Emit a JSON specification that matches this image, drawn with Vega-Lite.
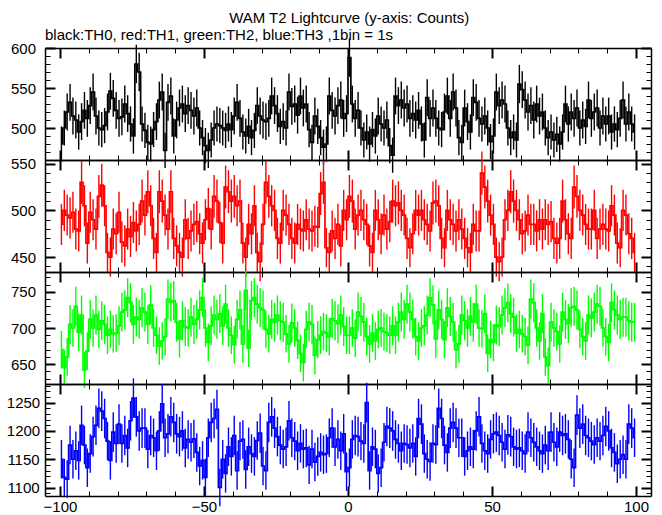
{
"$schema": "https://vega.github.io/schema/vega-lite/v6.json",
"padding": {"left": 6, "top": 10, "right": 5, "bottom": 0},
"bounds": "flush",
"spacing": 0,
"title": {"text": "WAM T2 Lightcurve (y-axis: Counts)", "anchor": "middle", "frame": "bounds", "dx": 20, "font": "Liberation Sans", "fontSize": 15, "fontWeight": "normal", "color": "black", "offset": 2},
"datasets": {
"th0": [
{"x":-99.5,"y":480,"e":22},{"x":-98.5,"y":500,"e":22},{"x":-97.5,"y":520,"e":23},{"x":-96.5,"y":532,"e":23},{"x":-95.5,"y":515,"e":23},{"x":-94.5,"y":510,"e":23},{"x":-93.5,"y":495,"e":22},{"x":-92.5,"y":508,"e":23},{"x":-91.5,"y":522,"e":23},{"x":-90.5,"y":512,"e":23},
{"x":-89.5,"y":528,"e":23},{"x":-88.5,"y":545,"e":23},{"x":-87.5,"y":515,"e":23},{"x":-86.5,"y":500,"e":22},{"x":-85.5,"y":498,"e":22},{"x":-84.5,"y":503,"e":22},{"x":-83.5,"y":520,"e":23},{"x":-82.5,"y":546,"e":23},{"x":-81.5,"y":537,"e":23},{"x":-80.5,"y":522,"e":23},
{"x":-79.5,"y":512,"e":23},{"x":-78.5,"y":514,"e":23},{"x":-77.5,"y":530,"e":23},{"x":-76.5,"y":518,"e":23},{"x":-75.5,"y":505,"e":22},{"x":-74.5,"y":490,"e":22},{"x":-73.5,"y":580,"e":24},{"x":-72.5,"y":570,"e":24},{"x":-71.5,"y":505,"e":22},{"x":-70.5,"y":497,"e":22},
{"x":-69.5,"y":482,"e":22},{"x":-68.5,"y":480,"e":22},{"x":-67.5,"y":498,"e":22},{"x":-66.5,"y":508,"e":23},{"x":-65.5,"y":535,"e":23},{"x":-64.5,"y":545,"e":23},{"x":-63.5,"y":472,"e":22},{"x":-62.5,"y":532,"e":23},{"x":-61.5,"y":540,"e":23},{"x":-60.5,"y":490,"e":22},
{"x":-59.5,"y":510,"e":23},{"x":-58.5,"y":525,"e":23},{"x":-57.5,"y":530,"e":23},{"x":-56.5,"y":518,"e":23},{"x":-55.5,"y":528,"e":23},{"x":-54.5,"y":522,"e":23},{"x":-53.5,"y":515,"e":23},{"x":-52.5,"y":525,"e":23},{"x":-51.5,"y":500,"e":22},{"x":-50.5,"y":488,"e":22},
{"x":-49.5,"y":478,"e":22},{"x":-48.5,"y":472,"e":22},{"x":-47.5,"y":485,"e":22},{"x":-46.5,"y":500,"e":22},{"x":-45.5,"y":505,"e":22},{"x":-44.5,"y":503,"e":22},{"x":-43.5,"y":500,"e":22},{"x":-42.5,"y":497,"e":22},{"x":-41.5,"y":505,"e":22},{"x":-40.5,"y":498,"e":22},
{"x":-39.5,"y":515,"e":23},{"x":-38.5,"y":532,"e":23},{"x":-37.5,"y":512,"e":23},{"x":-36.5,"y":495,"e":22},{"x":-35.5,"y":490,"e":22},{"x":-34.5,"y":502,"e":22},{"x":-33.5,"y":488,"e":22},{"x":-32.5,"y":497,"e":22},{"x":-31.5,"y":528,"e":23},{"x":-30.5,"y":515,"e":23},
{"x":-29.5,"y":510,"e":23},{"x":-28.5,"y":508,"e":23},{"x":-27.5,"y":512,"e":23},{"x":-26.5,"y":540,"e":23},{"x":-25.5,"y":528,"e":23},{"x":-24.5,"y":518,"e":23},{"x":-23.5,"y":502,"e":22},{"x":-22.5,"y":508,"e":23},{"x":-21.5,"y":500,"e":22},{"x":-20.5,"y":545,"e":23},
{"x":-19.5,"y":527,"e":23},{"x":-18.5,"y":530,"e":23},{"x":-17.5,"y":516,"e":23},{"x":-16.5,"y":540,"e":23},{"x":-15.5,"y":525,"e":23},{"x":-14.5,"y":530,"e":23},{"x":-13.5,"y":498,"e":22},{"x":-12.5,"y":482,"e":22},{"x":-11.5,"y":515,"e":23},{"x":-10.5,"y":502,"e":22},
{"x":-9.5,"y":488,"e":22},{"x":-8.5,"y":476,"e":22},{"x":-7.5,"y":480,"e":22},{"x":-6.5,"y":540,"e":23},{"x":-5.5,"y":522,"e":23},{"x":-4.5,"y":515,"e":23},{"x":-3.5,"y":528,"e":23},{"x":-2.5,"y":535,"e":23},{"x":-1.5,"y":512,"e":23},{"x":-0.5,"y":518,"e":23},
{"x":0.5,"y":588,"e":24},{"x":1.5,"y":530,"e":23},{"x":2.5,"y":512,"e":23},{"x":3.5,"y":522,"e":23},{"x":4.5,"y":500,"e":22},{"x":5.5,"y":485,"e":22},{"x":6.5,"y":495,"e":22},{"x":7.5,"y":480,"e":22},{"x":8.5,"y":498,"e":22},{"x":9.5,"y":490,"e":22},
{"x":10.5,"y":515,"e":23},{"x":11.5,"y":505,"e":22},{"x":12.5,"y":500,"e":22},{"x":13.5,"y":510,"e":23},{"x":14.5,"y":478,"e":22},{"x":15.5,"y":466,"e":22},{"x":16.5,"y":540,"e":23},{"x":17.5,"y":528,"e":23},{"x":18.5,"y":535,"e":23},{"x":19.5,"y":525,"e":23},
{"x":20.5,"y":530,"e":23},{"x":21.5,"y":512,"e":23},{"x":22.5,"y":518,"e":23},{"x":23.5,"y":510,"e":23},{"x":24.5,"y":522,"e":23},{"x":25.5,"y":505,"e":22},{"x":26.5,"y":485,"e":22},{"x":27.5,"y":538,"e":23},{"x":28.5,"y":512,"e":23},{"x":29.5,"y":525,"e":23},
{"x":30.5,"y":512,"e":23},{"x":31.5,"y":500,"e":22},{"x":32.5,"y":498,"e":22},{"x":33.5,"y":520,"e":23},{"x":34.5,"y":540,"e":23},{"x":35.5,"y":512,"e":23},{"x":36.5,"y":545,"e":23},{"x":37.5,"y":525,"e":23},{"x":38.5,"y":488,"e":22},{"x":39.5,"y":482,"e":22},
{"x":40.5,"y":525,"e":23},{"x":41.5,"y":508,"e":23},{"x":42.5,"y":495,"e":22},{"x":43.5,"y":538,"e":23},{"x":44.5,"y":532,"e":23},{"x":45.5,"y":512,"e":23},{"x":46.5,"y":505,"e":22},{"x":47.5,"y":515,"e":23},{"x":48.5,"y":500,"e":22},{"x":49.5,"y":483,"e":22},
{"x":50.5,"y":490,"e":22},{"x":51.5,"y":545,"e":23},{"x":52.5,"y":528,"e":23},{"x":53.5,"y":535,"e":23},{"x":54.5,"y":530,"e":23},{"x":55.5,"y":500,"e":22},{"x":56.5,"y":488,"e":22},{"x":57.5,"y":495,"e":22},{"x":58.5,"y":485,"e":22},{"x":59.5,"y":555,"e":24},
{"x":60.5,"y":548,"e":23},{"x":61.5,"y":535,"e":23},{"x":62.5,"y":520,"e":23},{"x":63.5,"y":528,"e":23},{"x":64.5,"y":510,"e":23},{"x":65.5,"y":530,"e":23},{"x":66.5,"y":515,"e":23},{"x":67.5,"y":520,"e":23},{"x":68.5,"y":500,"e":22},{"x":69.5,"y":488,"e":22},
{"x":70.5,"y":495,"e":22},{"x":71.5,"y":485,"e":22},{"x":72.5,"y":492,"e":22},{"x":73.5,"y":480,"e":22},{"x":74.5,"y":495,"e":22},{"x":75.5,"y":530,"e":23},{"x":76.5,"y":505,"e":22},{"x":77.5,"y":520,"e":23},{"x":78.5,"y":512,"e":23},{"x":79.5,"y":525,"e":23},
{"x":80.5,"y":500,"e":22},{"x":81.5,"y":510,"e":23},{"x":82.5,"y":502,"e":22},{"x":83.5,"y":535,"e":23},{"x":84.5,"y":512,"e":23},{"x":85.5,"y":520,"e":23},{"x":86.5,"y":525,"e":23},{"x":87.5,"y":500,"e":22},{"x":88.5,"y":515,"e":23},{"x":89.5,"y":505,"e":22},
{"x":90.5,"y":515,"e":23},{"x":91.5,"y":495,"e":22},{"x":92.5,"y":505,"e":22},{"x":93.5,"y":498,"e":22},{"x":94.5,"y":512,"e":23},{"x":95.5,"y":535,"e":23},{"x":96.5,"y":505,"e":22},{"x":97.5,"y":520,"e":23},{"x":98.5,"y":505,"e":22},{"x":99.5,"y":495,"e":22}
],
"th1": [
{"x":-99.5,"y":485,"e":22},{"x":-98.5,"y":500,"e":22},{"x":-97.5,"y":495,"e":22},{"x":-96.5,"y":492,"e":22},{"x":-95.5,"y":498,"e":22},{"x":-94.5,"y":480,"e":22},{"x":-93.5,"y":478,"e":22},{"x":-92.5,"y":530,"e":23},{"x":-91.5,"y":505,"e":22},{"x":-90.5,"y":465,"e":22},
{"x":-89.5,"y":498,"e":22},{"x":-88.5,"y":490,"e":22},{"x":-87.5,"y":480,"e":22},{"x":-86.5,"y":515,"e":23},{"x":-85.5,"y":527,"e":23},{"x":-84.5,"y":505,"e":22},{"x":-83.5,"y":455,"e":21},{"x":-82.5,"y":450,"e":21},{"x":-81.5,"y":480,"e":22},{"x":-80.5,"y":475,"e":22},
{"x":-79.5,"y":498,"e":22},{"x":-78.5,"y":466,"e":22},{"x":-77.5,"y":462,"e":22},{"x":-76.5,"y":480,"e":22},{"x":-75.5,"y":472,"e":22},{"x":-74.5,"y":487,"e":22},{"x":-73.5,"y":478,"e":22},{"x":-72.5,"y":485,"e":22},{"x":-71.5,"y":510,"e":23},{"x":-70.5,"y":495,"e":22},
{"x":-69.5,"y":520,"e":23},{"x":-68.5,"y":505,"e":22},{"x":-67.5,"y":470,"e":22},{"x":-66.5,"y":455,"e":21},{"x":-65.5,"y":520,"e":23},{"x":-64.5,"y":510,"e":23},{"x":-63.5,"y":495,"e":22},{"x":-62.5,"y":480,"e":22},{"x":-61.5,"y":520,"e":23},{"x":-60.5,"y":470,"e":22},
{"x":-59.5,"y":462,"e":22},{"x":-58.5,"y":455,"e":21},{"x":-57.5,"y":450,"e":21},{"x":-56.5,"y":490,"e":22},{"x":-55.5,"y":470,"e":22},{"x":-54.5,"y":478,"e":22},{"x":-53.5,"y":485,"e":22},{"x":-52.5,"y":488,"e":22},{"x":-51.5,"y":475,"e":22},{"x":-50.5,"y":465,"e":22},
{"x":-49.5,"y":490,"e":22},{"x":-48.5,"y":502,"e":22},{"x":-47.5,"y":480,"e":22},{"x":-46.5,"y":515,"e":23},{"x":-45.5,"y":510,"e":23},{"x":-44.5,"y":487,"e":22},{"x":-43.5,"y":465,"e":22},{"x":-42.5,"y":525,"e":23},{"x":-41.5,"y":520,"e":23},{"x":-40.5,"y":510,"e":23},
{"x":-39.5,"y":515,"e":23},{"x":-38.5,"y":505,"e":22},{"x":-37.5,"y":510,"e":23},{"x":-36.5,"y":465,"e":22},{"x":-35.5,"y":450,"e":21},{"x":-34.5,"y":485,"e":22},{"x":-33.5,"y":475,"e":22},{"x":-32.5,"y":505,"e":22},{"x":-31.5,"y":455,"e":21},{"x":-30.5,"y":445,"e":21},
{"x":-29.5,"y":485,"e":22},{"x":-28.5,"y":530,"e":23},{"x":-27.5,"y":515,"e":23},{"x":-26.5,"y":505,"e":22},{"x":-25.5,"y":500,"e":22},{"x":-24.5,"y":470,"e":22},{"x":-23.5,"y":465,"e":22},{"x":-22.5,"y":500,"e":22},{"x":-21.5,"y":495,"e":22},{"x":-20.5,"y":485,"e":22},
{"x":-19.5,"y":470,"e":22},{"x":-18.5,"y":465,"e":22},{"x":-17.5,"y":485,"e":22},{"x":-16.5,"y":480,"e":22},{"x":-15.5,"y":478,"e":22},{"x":-14.5,"y":490,"e":22},{"x":-13.5,"y":480,"e":22},{"x":-12.5,"y":478,"e":22},{"x":-11.5,"y":483,"e":22},{"x":-10.5,"y":482,"e":22},
{"x":-9.5,"y":518,"e":23},{"x":-8.5,"y":530,"e":23},{"x":-7.5,"y":460,"e":21},{"x":-6.5,"y":455,"e":21},{"x":-5.5,"y":478,"e":22},{"x":-4.5,"y":470,"e":22},{"x":-3.5,"y":485,"e":22},{"x":-2.5,"y":462,"e":22},{"x":-1.5,"y":500,"e":22},{"x":-0.5,"y":490,"e":22},
{"x":0.5,"y":515,"e":23},{"x":1.5,"y":510,"e":23},{"x":2.5,"y":480,"e":22},{"x":3.5,"y":495,"e":22},{"x":4.5,"y":500,"e":22},{"x":5.5,"y":490,"e":22},{"x":6.5,"y":485,"e":22},{"x":7.5,"y":462,"e":22},{"x":8.5,"y":455,"e":21},{"x":9.5,"y":500,"e":22},
{"x":10.5,"y":490,"e":22},{"x":11.5,"y":475,"e":22},{"x":12.5,"y":495,"e":22},{"x":13.5,"y":480,"e":22},{"x":14.5,"y":488,"e":22},{"x":15.5,"y":510,"e":23},{"x":16.5,"y":505,"e":22},{"x":17.5,"y":508,"e":23},{"x":18.5,"y":500,"e":22},{"x":19.5,"y":495,"e":22},
{"x":20.5,"y":470,"e":22},{"x":21.5,"y":460,"e":21},{"x":22.5,"y":475,"e":22},{"x":23.5,"y":500,"e":22},{"x":24.5,"y":495,"e":22},{"x":25.5,"y":500,"e":22},{"x":26.5,"y":490,"e":22},{"x":27.5,"y":485,"e":22},{"x":28.5,"y":478,"e":22},{"x":29.5,"y":508,"e":23},
{"x":30.5,"y":510,"e":23},{"x":31.5,"y":505,"e":22},{"x":32.5,"y":470,"e":22},{"x":33.5,"y":460,"e":21},{"x":34.5,"y":500,"e":22},{"x":35.5,"y":490,"e":22},{"x":36.5,"y":485,"e":22},{"x":37.5,"y":478,"e":22},{"x":38.5,"y":490,"e":22},{"x":39.5,"y":480,"e":22},
{"x":40.5,"y":470,"e":22},{"x":41.5,"y":460,"e":21},{"x":42.5,"y":455,"e":21},{"x":43.5,"y":485,"e":22},{"x":44.5,"y":478,"e":22},{"x":45.5,"y":478,"e":22},{"x":46.5,"y":540,"e":23},{"x":47.5,"y":525,"e":23},{"x":48.5,"y":510,"e":23},{"x":49.5,"y":495,"e":22},
{"x":50.5,"y":485,"e":22},{"x":51.5,"y":450,"e":21},{"x":52.5,"y":445,"e":21},{"x":53.5,"y":450,"e":21},{"x":54.5,"y":490,"e":22},{"x":55.5,"y":500,"e":22},{"x":56.5,"y":520,"e":23},{"x":57.5,"y":510,"e":23},{"x":58.5,"y":500,"e":22},{"x":59.5,"y":490,"e":22},
{"x":60.5,"y":475,"e":22},{"x":61.5,"y":478,"e":22},{"x":62.5,"y":495,"e":22},{"x":63.5,"y":485,"e":22},{"x":64.5,"y":485,"e":22},{"x":65.5,"y":478,"e":22},{"x":66.5,"y":490,"e":22},{"x":67.5,"y":480,"e":22},{"x":68.5,"y":490,"e":22},{"x":69.5,"y":485,"e":22},
{"x":70.5,"y":488,"e":22},{"x":71.5,"y":470,"e":22},{"x":72.5,"y":465,"e":22},{"x":73.5,"y":470,"e":22},{"x":74.5,"y":510,"e":23},{"x":75.5,"y":490,"e":22},{"x":76.5,"y":475,"e":22},{"x":77.5,"y":470,"e":22},{"x":78.5,"y":525,"e":23},{"x":79.5,"y":515,"e":23},
{"x":80.5,"y":500,"e":22},{"x":81.5,"y":495,"e":22},{"x":82.5,"y":485,"e":22},{"x":83.5,"y":480,"e":22},{"x":84.5,"y":480,"e":22},{"x":85.5,"y":500,"e":22},{"x":86.5,"y":470,"e":22},{"x":87.5,"y":480,"e":22},{"x":88.5,"y":485,"e":22},{"x":89.5,"y":480,"e":22},
{"x":90.5,"y":478,"e":22},{"x":91.5,"y":505,"e":22},{"x":92.5,"y":495,"e":22},{"x":93.5,"y":465,"e":22},{"x":94.5,"y":460,"e":21},{"x":95.5,"y":500,"e":22},{"x":96.5,"y":495,"e":22},{"x":97.5,"y":475,"e":22},{"x":98.5,"y":470,"e":22},{"x":99.5,"y":455,"e":21}
],
"th2": [
{"x":-99.5,"y":670,"e":26},{"x":-98.5,"y":645,"e":25},{"x":-97.5,"y":660,"e":26},{"x":-96.5,"y":705,"e":27},{"x":-95.5,"y":700,"e":26},{"x":-94.5,"y":730,"e":27},{"x":-93.5,"y":694,"e":26},{"x":-92.5,"y":718,"e":27},{"x":-91.5,"y":642,"e":25},{"x":-90.5,"y":668,"e":26},
{"x":-89.5,"y":712,"e":27},{"x":-88.5,"y":700,"e":26},{"x":-87.5,"y":718,"e":27},{"x":-86.5,"y":698,"e":26},{"x":-85.5,"y":710,"e":27},{"x":-84.5,"y":705,"e":27},{"x":-83.5,"y":690,"e":26},{"x":-82.5,"y":698,"e":26},{"x":-81.5,"y":692,"e":26},{"x":-80.5,"y":693,"e":26},
{"x":-79.5,"y":703,"e":27},{"x":-78.5,"y":722,"e":27},{"x":-77.5,"y":725,"e":27},{"x":-76.5,"y":742,"e":27},{"x":-75.5,"y":735,"e":27},{"x":-74.5,"y":705,"e":27},{"x":-73.5,"y":715,"e":27},{"x":-72.5,"y":712,"e":27},{"x":-71.5,"y":728,"e":27},{"x":-70.5,"y":722,"e":27},
{"x":-69.5,"y":705,"e":27},{"x":-68.5,"y":732,"e":27},{"x":-67.5,"y":700,"e":26},{"x":-66.5,"y":690,"e":26},{"x":-65.5,"y":675,"e":26},{"x":-64.5,"y":682,"e":26},{"x":-63.5,"y":688,"e":26},{"x":-62.5,"y":740,"e":27},{"x":-61.5,"y":736,"e":27},{"x":-60.5,"y":738,"e":27},
{"x":-59.5,"y":708,"e":27},{"x":-58.5,"y":685,"e":26},{"x":-57.5,"y":710,"e":27},{"x":-56.5,"y":702,"e":27},{"x":-55.5,"y":700,"e":26},{"x":-54.5,"y":715,"e":27},{"x":-53.5,"y":705,"e":27},{"x":-52.5,"y":712,"e":27},{"x":-51.5,"y":725,"e":27},{"x":-50.5,"y":742,"e":27},
{"x":-49.5,"y":700,"e":26},{"x":-48.5,"y":680,"e":26},{"x":-47.5,"y":703,"e":27},{"x":-46.5,"y":718,"e":27},{"x":-45.5,"y":712,"e":27},{"x":-44.5,"y":720,"e":27},{"x":-43.5,"y":703,"e":27},{"x":-42.5,"y":733,"e":27},{"x":-41.5,"y":700,"e":26},{"x":-40.5,"y":690,"e":26},
{"x":-39.5,"y":677,"e":26},{"x":-38.5,"y":712,"e":27},{"x":-37.5,"y":725,"e":27},{"x":-36.5,"y":678,"e":26},{"x":-35.5,"y":752,"e":27},{"x":-34.5,"y":672,"e":26},{"x":-33.5,"y":738,"e":27},{"x":-32.5,"y":742,"e":27},{"x":-31.5,"y":733,"e":27},{"x":-30.5,"y":728,"e":27},
{"x":-29.5,"y":725,"e":27},{"x":-28.5,"y":698,"e":26},{"x":-27.5,"y":692,"e":26},{"x":-26.5,"y":712,"e":27},{"x":-25.5,"y":708,"e":27},{"x":-24.5,"y":718,"e":27},{"x":-23.5,"y":710,"e":27},{"x":-22.5,"y":708,"e":27},{"x":-21.5,"y":692,"e":26},{"x":-20.5,"y":678,"e":26},
{"x":-19.5,"y":707,"e":27},{"x":-18.5,"y":700,"e":26},{"x":-17.5,"y":683,"e":26},{"x":-16.5,"y":665,"e":26},{"x":-15.5,"y":652,"e":26},{"x":-14.5,"y":698,"e":26},{"x":-13.5,"y":708,"e":27},{"x":-12.5,"y":705,"e":27},{"x":-11.5,"y":662,"e":26},{"x":-10.5,"y":684,"e":26},
{"x":-9.5,"y":690,"e":26},{"x":-8.5,"y":695,"e":26},{"x":-7.5,"y":693,"e":26},{"x":-6.5,"y":688,"e":26},{"x":-5.5,"y":713,"e":27},{"x":-4.5,"y":710,"e":27},{"x":-3.5,"y":706,"e":27},{"x":-2.5,"y":718,"e":27},{"x":-1.5,"y":702,"e":27},{"x":-0.5,"y":690,"e":26},
{"x":0.5,"y":690,"e":26},{"x":1.5,"y":700,"e":26},{"x":2.5,"y":686,"e":26},{"x":3.5,"y":722,"e":27},{"x":4.5,"y":716,"e":27},{"x":5.5,"y":708,"e":27},{"x":6.5,"y":688,"e":26},{"x":7.5,"y":678,"e":26},{"x":8.5,"y":693,"e":26},{"x":9.5,"y":682,"e":26},
{"x":10.5,"y":698,"e":26},{"x":11.5,"y":700,"e":26},{"x":12.5,"y":695,"e":26},{"x":13.5,"y":693,"e":26},{"x":14.5,"y":690,"e":26},{"x":15.5,"y":703,"e":27},{"x":16.5,"y":690,"e":26},{"x":17.5,"y":708,"e":27},{"x":18.5,"y":722,"e":27},{"x":19.5,"y":712,"e":27},
{"x":20.5,"y":733,"e":27},{"x":21.5,"y":722,"e":27},{"x":22.5,"y":712,"e":27},{"x":23.5,"y":688,"e":26},{"x":24.5,"y":682,"e":26},{"x":25.5,"y":700,"e":26},{"x":26.5,"y":703,"e":27},{"x":27.5,"y":718,"e":27},{"x":28.5,"y":742,"e":27},{"x":29.5,"y":732,"e":27},
{"x":30.5,"y":685,"e":26},{"x":31.5,"y":725,"e":27},{"x":32.5,"y":712,"e":27},{"x":33.5,"y":684,"e":26},{"x":34.5,"y":728,"e":27},{"x":35.5,"y":716,"e":27},{"x":36.5,"y":708,"e":27},{"x":37.5,"y":670,"e":26},{"x":38.5,"y":678,"e":26},{"x":39.5,"y":718,"e":27},
{"x":40.5,"y":710,"e":27},{"x":41.5,"y":700,"e":26},{"x":42.5,"y":716,"e":27},{"x":43.5,"y":708,"e":27},{"x":44.5,"y":733,"e":27},{"x":45.5,"y":700,"e":26},{"x":46.5,"y":699,"e":26},{"x":47.5,"y":720,"e":27},{"x":48.5,"y":665,"e":26},{"x":49.5,"y":684,"e":26},
{"x":50.5,"y":680,"e":26},{"x":51.5,"y":704,"e":27},{"x":52.5,"y":702,"e":27},{"x":53.5,"y":718,"e":27},{"x":54.5,"y":728,"e":27},{"x":55.5,"y":735,"e":27},{"x":56.5,"y":720,"e":27},{"x":57.5,"y":715,"e":27},{"x":58.5,"y":693,"e":26},{"x":59.5,"y":698,"e":26},
{"x":60.5,"y":692,"e":26},{"x":61.5,"y":688,"e":26},{"x":62.5,"y":676,"e":26},{"x":63.5,"y":740,"e":27},{"x":64.5,"y":735,"e":27},{"x":65.5,"y":700,"e":26},{"x":66.5,"y":682,"e":26},{"x":67.5,"y":720,"e":27},{"x":68.5,"y":660,"e":26},{"x":69.5,"y":648,"e":25},
{"x":70.5,"y":708,"e":27},{"x":71.5,"y":700,"e":26},{"x":72.5,"y":695,"e":26},{"x":73.5,"y":678,"e":26},{"x":74.5,"y":722,"e":27},{"x":75.5,"y":712,"e":27},{"x":76.5,"y":706,"e":27},{"x":77.5,"y":728,"e":27},{"x":78.5,"y":730,"e":27},{"x":79.5,"y":725,"e":27},
{"x":80.5,"y":698,"e":26},{"x":81.5,"y":688,"e":26},{"x":82.5,"y":682,"e":26},{"x":83.5,"y":718,"e":27},{"x":84.5,"y":714,"e":27},{"x":85.5,"y":722,"e":27},{"x":86.5,"y":733,"e":27},{"x":87.5,"y":730,"e":27},{"x":88.5,"y":700,"e":26},{"x":89.5,"y":688,"e":26},
{"x":90.5,"y":680,"e":26},{"x":91.5,"y":735,"e":27},{"x":92.5,"y":725,"e":27},{"x":93.5,"y":718,"e":27},{"x":94.5,"y":712,"e":27},{"x":95.5,"y":715,"e":27},{"x":96.5,"y":715,"e":27},{"x":97.5,"y":710,"e":27},{"x":98.5,"y":708,"e":27},{"x":99.5,"y":708,"e":27}
],
"th3": [
{"x":-99.5,"y":1150,"e":34},{"x":-98.5,"y":1118,"e":33},{"x":-97.5,"y":1115,"e":33},{"x":-96.5,"y":1175,"e":34},{"x":-95.5,"y":1150,"e":34},{"x":-94.5,"y":1165,"e":34},{"x":-93.5,"y":1148,"e":34},{"x":-92.5,"y":1210,"e":35},{"x":-91.5,"y":1175,"e":34},{"x":-90.5,"y":1135,"e":34},
{"x":-89.5,"y":1160,"e":34},{"x":-88.5,"y":1190,"e":35},{"x":-87.5,"y":1210,"e":35},{"x":-86.5,"y":1240,"e":35},{"x":-85.5,"y":1235,"e":35},{"x":-84.5,"y":1222,"e":35},{"x":-83.5,"y":1182,"e":34},{"x":-82.5,"y":1148,"e":34},{"x":-81.5,"y":1198,"e":35},{"x":-80.5,"y":1178,"e":34},
{"x":-79.5,"y":1212,"e":35},{"x":-78.5,"y":1178,"e":34},{"x":-77.5,"y":1192,"e":35},{"x":-76.5,"y":1170,"e":34},{"x":-75.5,"y":1218,"e":35},{"x":-74.5,"y":1258,"e":35},{"x":-73.5,"y":1225,"e":35},{"x":-72.5,"y":1200,"e":35},{"x":-71.5,"y":1205,"e":35},{"x":-70.5,"y":1205,"e":35},
{"x":-69.5,"y":1168,"e":34},{"x":-68.5,"y":1192,"e":35},{"x":-67.5,"y":1188,"e":34},{"x":-66.5,"y":1165,"e":34},{"x":-65.5,"y":1200,"e":35},{"x":-64.5,"y":1248,"e":35},{"x":-63.5,"y":1188,"e":34},{"x":-62.5,"y":1195,"e":35},{"x":-61.5,"y":1225,"e":35},{"x":-60.5,"y":1215,"e":35},
{"x":-59.5,"y":1195,"e":35},{"x":-58.5,"y":1190,"e":35},{"x":-57.5,"y":1200,"e":35},{"x":-56.5,"y":1170,"e":34},{"x":-55.5,"y":1185,"e":34},{"x":-54.5,"y":1180,"e":34},{"x":-53.5,"y":1186,"e":34},{"x":-52.5,"y":1162,"e":34},{"x":-51.5,"y":1138,"e":34},{"x":-50.5,"y":1148,"e":34},
{"x":-49.5,"y":1118,"e":33},{"x":-48.5,"y":1188,"e":34},{"x":-47.5,"y":1215,"e":35},{"x":-46.5,"y":1222,"e":35},{"x":-45.5,"y":1238,"e":35},{"x":-44.5,"y":1100,"e":33},{"x":-43.5,"y":1150,"e":34},{"x":-42.5,"y":1125,"e":34},{"x":-41.5,"y":1172,"e":34},{"x":-40.5,"y":1155,"e":34},
{"x":-39.5,"y":1192,"e":35},{"x":-38.5,"y":1130,"e":34},{"x":-37.5,"y":1182,"e":34},{"x":-36.5,"y":1185,"e":34},{"x":-35.5,"y":1132,"e":34},{"x":-34.5,"y":1172,"e":34},{"x":-33.5,"y":1160,"e":34},{"x":-32.5,"y":1155,"e":34},{"x":-31.5,"y":1183,"e":34},{"x":-30.5,"y":1196,"e":35},
{"x":-29.5,"y":1138,"e":34},{"x":-28.5,"y":1130,"e":34},{"x":-27.5,"y":1215,"e":35},{"x":-26.5,"y":1225,"e":35},{"x":-25.5,"y":1205,"e":35},{"x":-24.5,"y":1190,"e":35},{"x":-23.5,"y":1175,"e":34},{"x":-22.5,"y":1168,"e":34},{"x":-21.5,"y":1172,"e":34},{"x":-20.5,"y":1218,"e":35},
{"x":-19.5,"y":1188,"e":34},{"x":-18.5,"y":1182,"e":34},{"x":-17.5,"y":1165,"e":34},{"x":-16.5,"y":1178,"e":34},{"x":-15.5,"y":1168,"e":34},{"x":-14.5,"y":1170,"e":34},{"x":-13.5,"y":1140,"e":34},{"x":-12.5,"y":1168,"e":34},{"x":-11.5,"y":1145,"e":34},{"x":-10.5,"y":1155,"e":34},
{"x":-9.5,"y":1162,"e":34},{"x":-8.5,"y":1158,"e":34},{"x":-7.5,"y":1160,"e":34},{"x":-6.5,"y":1188,"e":34},{"x":-5.5,"y":1205,"e":35},{"x":-4.5,"y":1172,"e":34},{"x":-3.5,"y":1185,"e":34},{"x":-2.5,"y":1165,"e":34},{"x":-1.5,"y":1195,"e":35},{"x":-0.5,"y":1128,"e":34},
{"x":0.5,"y":1135,"e":34},{"x":1.5,"y":1185,"e":34},{"x":2.5,"y":1192,"e":35},{"x":3.5,"y":1190,"e":35},{"x":4.5,"y":1182,"e":34},{"x":5.5,"y":1178,"e":34},{"x":6.5,"y":1250,"e":35},{"x":7.5,"y":1130,"e":34},{"x":8.5,"y":1172,"e":34},{"x":9.5,"y":1168,"e":34},
{"x":10.5,"y":1125,"e":34},{"x":11.5,"y":1135,"e":34},{"x":12.5,"y":1180,"e":34},{"x":13.5,"y":1208,"e":35},{"x":14.5,"y":1205,"e":35},{"x":15.5,"y":1200,"e":35},{"x":16.5,"y":1185,"e":34},{"x":17.5,"y":1178,"e":34},{"x":18.5,"y":1165,"e":34},{"x":19.5,"y":1178,"e":34},
{"x":20.5,"y":1176,"e":34},{"x":21.5,"y":1170,"e":34},{"x":22.5,"y":1178,"e":34},{"x":23.5,"y":1155,"e":34},{"x":24.5,"y":1222,"e":35},{"x":25.5,"y":1212,"e":35},{"x":26.5,"y":1160,"e":34},{"x":27.5,"y":1150,"e":34},{"x":28.5,"y":1146,"e":34},{"x":29.5,"y":1178,"e":34},
{"x":30.5,"y":1176,"e":34},{"x":31.5,"y":1240,"e":35},{"x":32.5,"y":1222,"e":35},{"x":33.5,"y":1175,"e":34},{"x":34.5,"y":1162,"e":34},{"x":35.5,"y":1205,"e":35},{"x":36.5,"y":1215,"e":35},{"x":37.5,"y":1205,"e":35},{"x":38.5,"y":1188,"e":34},{"x":39.5,"y":1188,"e":34},
{"x":40.5,"y":1155,"e":34},{"x":41.5,"y":1165,"e":34},{"x":42.5,"y":1172,"e":34},{"x":43.5,"y":1168,"e":34},{"x":44.5,"y":1200,"e":35},{"x":45.5,"y":1225,"e":35},{"x":46.5,"y":1178,"e":34},{"x":47.5,"y":1165,"e":34},{"x":48.5,"y":1160,"e":34},{"x":49.5,"y":1185,"e":34},
{"x":50.5,"y":1195,"e":35},{"x":51.5,"y":1198,"e":35},{"x":52.5,"y":1192,"e":35},{"x":53.5,"y":1180,"e":34},{"x":54.5,"y":1168,"e":34},{"x":55.5,"y":1193,"e":35},{"x":56.5,"y":1190,"e":35},{"x":57.5,"y":1172,"e":34},{"x":58.5,"y":1168,"e":34},{"x":59.5,"y":1170,"e":34},
{"x":60.5,"y":1165,"e":34},{"x":61.5,"y":1160,"e":34},{"x":62.5,"y":1198,"e":35},{"x":63.5,"y":1188,"e":34},{"x":64.5,"y":1180,"e":34},{"x":65.5,"y":1172,"e":34},{"x":66.5,"y":1165,"e":34},{"x":67.5,"y":1160,"e":34},{"x":68.5,"y":1175,"e":34},{"x":69.5,"y":1165,"e":34},
{"x":70.5,"y":1198,"e":35},{"x":71.5,"y":1180,"e":34},{"x":72.5,"y":1172,"e":34},{"x":73.5,"y":1198,"e":35},{"x":74.5,"y":1192,"e":35},{"x":75.5,"y":1195,"e":35},{"x":76.5,"y":1185,"e":34},{"x":77.5,"y":1150,"e":34},{"x":78.5,"y":1135,"e":34},{"x":79.5,"y":1228,"e":35},
{"x":80.5,"y":1205,"e":35},{"x":81.5,"y":1212,"e":35},{"x":82.5,"y":1192,"e":35},{"x":83.5,"y":1188,"e":34},{"x":84.5,"y":1182,"e":34},{"x":85.5,"y":1176,"e":34},{"x":86.5,"y":1188,"e":34},{"x":87.5,"y":1182,"e":34},{"x":88.5,"y":1192,"e":35},{"x":89.5,"y":1208,"e":35},
{"x":90.5,"y":1200,"e":35},{"x":91.5,"y":1170,"e":34},{"x":92.5,"y":1162,"e":34},{"x":93.5,"y":1142,"e":34},{"x":94.5,"y":1150,"e":34},{"x":95.5,"y":1158,"e":34},{"x":96.5,"y":1150,"e":34},{"x":97.5,"y":1212,"e":35},{"x":98.5,"y":1205,"e":35},{"x":99.5,"y":1188,"e":34}
]
},
"vconcat": [
{
"width": 606, "height": 112,
"data": {"name": "th0"},
"title": {"text": "black:TH0, red:TH1, green:TH2, blue:TH3 ,1bin = 1s", "anchor": "start", "frame": "group", "font": "Liberation Sans", "fontSize": 15, "fontWeight": "normal", "color": "black", "offset": -5},
"layer": [
{"mark": {"type": "errorbar", "color": "#000000", "thickness": 1.4},
 "encoding": {"x": {"field": "x", "type": "quantitative", "scale": {"domain": [-105.2, 105.2], "nice": false, "zero": false}, "axis": null},
  "y": {"field": "y", "type": "quantitative", "scale": {"domain": [460, 600], "nice": false, "zero": false}, "axis": null},
  "yError": {"field": "e"}}},
{"mark": {"type": "line", "interpolate": "step", "color": "#000000", "strokeWidth": 1.7},
 "encoding": {"x": {"field": "x", "type": "quantitative", "scale": {"domain": [-105.2, 105.2], "nice": false, "zero": false},
   "axis": {"orient": "bottom", "title": null, "labels": false, "values": [-100,-90,-80,-70,-60,-50,-40,-30,-20,-10,0,10,20,30,40,50,60,70,80,90,100], "tickSize": {"condition": {"test": "datum.value % 50 === 0", "value": -10}, "value": -5}, "tickWidth": {"condition": {"test": "datum.value % 50 === 0", "value": 2}, "value": 1}}},
  "y": {"field": "y", "type": "quantitative", "scale": {"domain": [460, 600], "nice": false, "zero": false},
   "axis": {"orient": "left", "title": null, "format": "d", "values": [460,470,480,490,500,510,520,530,540,550,560,570,580,590,600], "labelExpr": "datum.value % 50 === 0 ? datum.label : ''", "labelAlign": "center", "labelPadding": 32, "tickSize": {"condition": {"test": "datum.value % 50 === 0", "value": -10}, "value": -5}, "tickWidth": {"condition": {"test": "datum.value % 50 === 0", "value": 2}, "value": 1}}}}},
{"mark": {"type": "line", "interpolate": "step", "strokeOpacity": 0},
 "encoding": {"x": {"field": "x", "type": "quantitative", "scale": {"domain": [-105.2, 105.2], "nice": false, "zero": false},
   "axis": {"orient": "top", "title": null, "labels": false, "values": [-100,-90,-80,-70,-60,-50,-40,-30,-20,-10,0,10,20,30,40,50,60,70,80,90,100], "tickSize": {"condition": {"test": "datum.value % 50 === 0", "value": -10}, "value": -5}, "tickWidth": {"condition": {"test": "datum.value % 50 === 0", "value": 2}, "value": 1}}},
  "y": {"field": "y", "type": "quantitative", "scale": {"domain": [460, 600], "nice": false, "zero": false},
   "axis": {"orient": "right", "title": null, "labels": false, "values": [460,470,480,490,500,510,520,530,540,550,560,570,580,590,600], "tickSize": {"condition": {"test": "datum.value % 50 === 0", "value": -10}, "value": -5}, "tickWidth": {"condition": {"test": "datum.value % 50 === 0", "value": 2}, "value": 1}}}}}
],
"resolve": {"axis": {"x": "independent", "y": "independent"}}
},
{
"width": 606, "height": 112,
"data": {"name": "th1"},
"layer": [
{"mark": {"type": "errorbar", "color": "#ff0000", "thickness": 1.4},
 "encoding": {"x": {"field": "x", "type": "quantitative", "scale": {"domain": [-105.2, 105.2], "nice": false, "zero": false}, "axis": null},
  "y": {"field": "y", "type": "quantitative", "scale": {"domain": [434, 554], "nice": false, "zero": false}, "axis": null},
  "yError": {"field": "e"}}},
{"mark": {"type": "line", "interpolate": "step", "color": "#ff0000", "strokeWidth": 1.7},
 "encoding": {"x": {"field": "x", "type": "quantitative", "scale": {"domain": [-105.2, 105.2], "nice": false, "zero": false},
   "axis": {"orient": "bottom", "title": null, "labels": false, "values": [-100,-90,-80,-70,-60,-50,-40,-30,-20,-10,0,10,20,30,40,50,60,70,80,90,100], "tickSize": {"condition": {"test": "datum.value % 50 === 0", "value": -10}, "value": -5}, "tickWidth": {"condition": {"test": "datum.value % 50 === 0", "value": 2}, "value": 1}}},
  "y": {"field": "y", "type": "quantitative", "scale": {"domain": [434, 554], "nice": false, "zero": false},
   "axis": {"orient": "left", "title": null, "format": "d", "values": [440,450,460,470,480,490,500,510,520,530,540,550], "labelExpr": "datum.value % 50 === 0 ? datum.label : ''", "labelAlign": "center", "labelPadding": 32, "tickSize": {"condition": {"test": "datum.value % 50 === 0", "value": -10}, "value": -5}, "tickWidth": {"condition": {"test": "datum.value % 50 === 0", "value": 2}, "value": 1}}}}},
{"mark": {"type": "line", "interpolate": "step", "strokeOpacity": 0},
 "encoding": {"x": {"field": "x", "type": "quantitative", "scale": {"domain": [-105.2, 105.2], "nice": false, "zero": false},
   "axis": {"orient": "top", "title": null, "labels": false, "values": [-100,-90,-80,-70,-60,-50,-40,-30,-20,-10,0,10,20,30,40,50,60,70,80,90,100], "tickSize": {"condition": {"test": "datum.value % 50 === 0", "value": -10}, "value": -5}, "tickWidth": {"condition": {"test": "datum.value % 50 === 0", "value": 2}, "value": 1}}},
  "y": {"field": "y", "type": "quantitative", "scale": {"domain": [434, 554], "nice": false, "zero": false},
   "axis": {"orient": "right", "title": null, "labels": false, "values": [440,450,460,470,480,490,500,510,520,530,540,550], "tickSize": {"condition": {"test": "datum.value % 50 === 0", "value": -10}, "value": -5}, "tickWidth": {"condition": {"test": "datum.value % 50 === 0", "value": 2}, "value": 1}}}}}
],
"resolve": {"axis": {"x": "independent", "y": "independent"}}
},
{
"width": 606, "height": 112,
"data": {"name": "th2"},
"layer": [
{"mark": {"type": "errorbar", "color": "#00ff00", "thickness": 1.4},
 "encoding": {"x": {"field": "x", "type": "quantitative", "scale": {"domain": [-105.2, 105.2], "nice": false, "zero": false}, "axis": null},
  "y": {"field": "y", "type": "quantitative", "scale": {"domain": [622.5, 777.5], "nice": false, "zero": false}, "axis": null},
  "yError": {"field": "e"}}},
{"mark": {"type": "line", "interpolate": "step", "color": "#00ff00", "strokeWidth": 1.7},
 "encoding": {"x": {"field": "x", "type": "quantitative", "scale": {"domain": [-105.2, 105.2], "nice": false, "zero": false},
   "axis": {"orient": "bottom", "title": null, "labels": false, "values": [-100,-90,-80,-70,-60,-50,-40,-30,-20,-10,0,10,20,30,40,50,60,70,80,90,100], "tickSize": {"condition": {"test": "datum.value % 50 === 0", "value": -10}, "value": -5}, "tickWidth": {"condition": {"test": "datum.value % 50 === 0", "value": 2}, "value": 1}}},
  "y": {"field": "y", "type": "quantitative", "scale": {"domain": [622.5, 777.5], "nice": false, "zero": false},
   "axis": {"orient": "left", "title": null, "format": "d", "values": [630,640,650,660,670,680,690,700,710,720,730,740,750,760,770], "labelExpr": "datum.value % 50 === 0 ? datum.label : ''", "labelAlign": "center", "labelPadding": 32, "tickSize": {"condition": {"test": "datum.value % 50 === 0", "value": -10}, "value": -5}, "tickWidth": {"condition": {"test": "datum.value % 50 === 0", "value": 2}, "value": 1}}}}},
{"mark": {"type": "line", "interpolate": "step", "strokeOpacity": 0},
 "encoding": {"x": {"field": "x", "type": "quantitative", "scale": {"domain": [-105.2, 105.2], "nice": false, "zero": false},
   "axis": {"orient": "top", "title": null, "labels": false, "values": [-100,-90,-80,-70,-60,-50,-40,-30,-20,-10,0,10,20,30,40,50,60,70,80,90,100], "tickSize": {"condition": {"test": "datum.value % 50 === 0", "value": -10}, "value": -5}, "tickWidth": {"condition": {"test": "datum.value % 50 === 0", "value": 2}, "value": 1}}},
  "y": {"field": "y", "type": "quantitative", "scale": {"domain": [622.5, 777.5], "nice": false, "zero": false},
   "axis": {"orient": "right", "title": null, "labels": false, "values": [630,640,650,660,670,680,690,700,710,720,730,740,750,760,770], "tickSize": {"condition": {"test": "datum.value % 50 === 0", "value": -10}, "value": -5}, "tickWidth": {"condition": {"test": "datum.value % 50 === 0", "value": 2}, "value": 1}}}}}
],
"resolve": {"axis": {"x": "independent", "y": "independent"}}
},
{
"width": 606, "height": 112,
"data": {"name": "th3"},
"layer": [
{"mark": {"type": "errorbar", "color": "#0000ff", "thickness": 1.4},
 "encoding": {"x": {"field": "x", "type": "quantitative", "scale": {"domain": [-105.2, 105.2], "nice": false, "zero": false}, "axis": null},
  "y": {"field": "y", "type": "quantitative", "scale": {"domain": [1085, 1283], "nice": false, "zero": false}, "axis": null},
  "yError": {"field": "e"}}},
{"mark": {"type": "line", "interpolate": "step", "color": "#0000ff", "strokeWidth": 1.7},
 "encoding": {"x": {"field": "x", "type": "quantitative", "scale": {"domain": [-105.2, 105.2], "nice": false, "zero": false},
   "axis": {"orient": "bottom", "title": null, "values": [-100,-90,-80,-70,-60,-50,-40,-30,-20,-10,0,10,20,30,40,50,60,70,80,90,100], "labelExpr": "datum.value % 50 === 0 ? datum.label : ''", "labelPadding": 13, "tickSize": {"condition": {"test": "datum.value % 50 === 0", "value": -10}, "value": -5}, "tickWidth": {"condition": {"test": "datum.value % 50 === 0", "value": 2}, "value": 1}}},
  "y": {"field": "y", "type": "quantitative", "scale": {"domain": [1085, 1283], "nice": false, "zero": false},
   "axis": {"orient": "left", "title": null, "format": "d", "values": [1090,1100,1110,1120,1130,1140,1150,1160,1170,1180,1190,1200,1210,1220,1230,1240,1250,1260,1270,1280], "labelExpr": "datum.value % 50 === 0 ? datum.label : ''", "labelAlign": "center", "labelPadding": 32, "tickSize": {"condition": {"test": "datum.value % 50 === 0", "value": -10}, "value": -5}, "tickWidth": {"condition": {"test": "datum.value % 50 === 0", "value": 2}, "value": 1}}}}},
{"mark": {"type": "line", "interpolate": "step", "strokeOpacity": 0},
 "encoding": {"x": {"field": "x", "type": "quantitative", "scale": {"domain": [-105.2, 105.2], "nice": false, "zero": false},
   "axis": {"orient": "top", "title": null, "labels": false, "values": [-100,-90,-80,-70,-60,-50,-40,-30,-20,-10,0,10,20,30,40,50,60,70,80,90,100], "tickSize": {"condition": {"test": "datum.value % 50 === 0", "value": -10}, "value": -5}, "tickWidth": {"condition": {"test": "datum.value % 50 === 0", "value": 2}, "value": 1}}},
  "y": {"field": "y", "type": "quantitative", "scale": {"domain": [1085, 1283], "nice": false, "zero": false},
   "axis": {"orient": "right", "title": null, "labels": false, "values": [1090,1100,1110,1120,1130,1140,1150,1160,1170,1180,1190,1200,1210,1220,1230,1240,1250,1260,1270,1280], "tickSize": {"condition": {"test": "datum.value % 50 === 0", "value": -10}, "value": -5}, "tickWidth": {"condition": {"test": "datum.value % 50 === 0", "value": 2}, "value": 1}}}}}
],
"resolve": {"axis": {"x": "independent", "y": "independent"}}
}
],
"config": {
"font": "Liberation Sans",
"view": {"stroke": null},
"axis": {"domainColor": "#000000", "domainWidth": 1.5, "tickColor": "#000000", "grid": false, "labelFont": "Liberation Sans", "labelFontSize": 15, "labelColor": "#000000", "labelFlush": false, "labelOverlap": false, "labelBound": false}
}
}
